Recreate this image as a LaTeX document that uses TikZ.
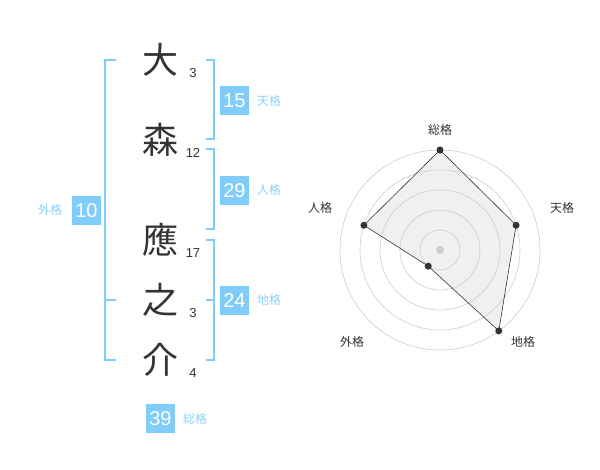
\documentclass[tikz,border=0pt]{standalone}
\usepackage{fontspec}
\setmainfont{Liberation Sans}
\newfontfamily\jpfont{Noto Sans CJK JP}
\usetikzlibrary{positioning,calc}
\definecolor{kakublue}{RGB}{128,204,250}
\colorlet{c1}{kakublue}
\colorlet{c2}{kakublue!90}
\colorlet{c3}{black!80}
\colorlet{c4}{black!20}

\begin{document}
\begin{tikzpicture}[x=1pt, y=1pt, line width=2pt]
\tikzstyle{kanji}=[text=c3, font=\jpfont\fontsize{36}{36}\selectfont, inner sep=0pt]
\tikzstyle{stroke}=[text=c3, font=\fontsize{13}{13}\selectfont, inner sep=0pt]
\tikzstyle{kaku}=[fill=c1, text=white, minimum size=29pt, inner sep=0pt, font=\fontsize{20}{20}\selectfont]
\tikzstyle{kakuname}=[text=c2, font=\jpfont\fontsize{12}{12}\selectfont, inner sep=0pt]
\tikzstyle{bracket}=[draw=c1, line width=2pt]
\tikzstyle{axisname}=[text=c3, font=\jpfont\fontsize{12}{12}\selectfont, inner sep=0pt]
\tikzstyle{dot}=[circle, fill=c3, inner sep=0pt, minimum size=7pt]
\useasboundingbox (0,0) rectangle (600,470);

% name
\node[kanji] (k1) at (160,410) {大};
\node[kanji] (k2) at (160,330) {森};
\node[kanji] (k3) at (160,230) {應};
\node[kanji] (k4) at (160,170) {之};
\node[kanji] (k5) at (160,110) {介};
\node[stroke] (s1) at (193,397) {3};
\node[stroke] (s2) at (193,317) {12};
\node[stroke] (s3) at (193,217) {17};
\node[stroke] (s4) at (193,157) {3};
\node[stroke] (s5) at (193,97) {4};

% brackets
\draw[bracket] (116,410) -- (105,410) -- (105,110) -- (116,110);
\draw[bracket] (105,170) -- (116,170);
\draw[bracket] (206,410) -- (214,410) -- (214,331) -- (206,331);
\draw[bracket] (206,321) -- (214,321) -- (214,241) -- (206,241);
\draw[bracket] (206,230) -- (214,230) -- (214,110) -- (206,110);
\draw[bracket] (206,170) -- (214,170);

% kaku
\node[kaku] (gai)  at (86.5,259.7) {10};
\node[kaku] (ten)  at (234.5,369.5) {15};
\node[kaku] (jin)  at (234.5,279.7) {29};
\node[kaku] (chi)  at (234.5,169.7) {24};
\node[kaku] (sou)  at (160.5,51.5) {39};
\node[kakuname] (gainame) [left=8pt of gai] {外格};
\node[kakuname] (tenname) [right=6pt of ten] {天格};
\node[kakuname] (jinname) [right=6pt of jin] {人格};
\node[kakuname] (chiname) [right=6pt of chi] {地格};
\node[kakuname] (souname) [right=6pt of sou] {総格};

% radar
\coordinate (o) at (440,220);
\coordinate (psou) at ($(o)+(90:100)$);
\coordinate (pten) at ($(o)+(18:80)$);
\coordinate (pchi) at ($(o)+(-54:100)$);
\coordinate (pgai) at ($(o)+(234:20)$);
\coordinate (pjin) at ($(o)+(162:80)$);
\fill[black!6] (psou) -- (pten) -- (pchi) -- (pgai) -- (pjin) -- cycle;
\foreach \r in {20,40,...,100}
  \draw[c4, line width=0.6pt] (o) circle (\r);
\fill[c4] (o) circle (4);
\draw[c3, line width=0.6pt] (psou) -- (pten) -- (pchi) -- (pgai) -- (pjin) -- cycle;
\foreach \p in {psou,pten,pchi,pgai,pjin}
  \node[dot] at (\p) {};
\node[axisname] (asou) at (440,340) {総格};
\node[axisname] (aten) at (562,262) {天格};
\node[axisname] (achi) at (523,128) {地格};
\node[axisname] (agai) at (352,128) {外格};
\node[axisname] (ajin) at (320,262) {人格};
\end{tikzpicture}
\end{document}
